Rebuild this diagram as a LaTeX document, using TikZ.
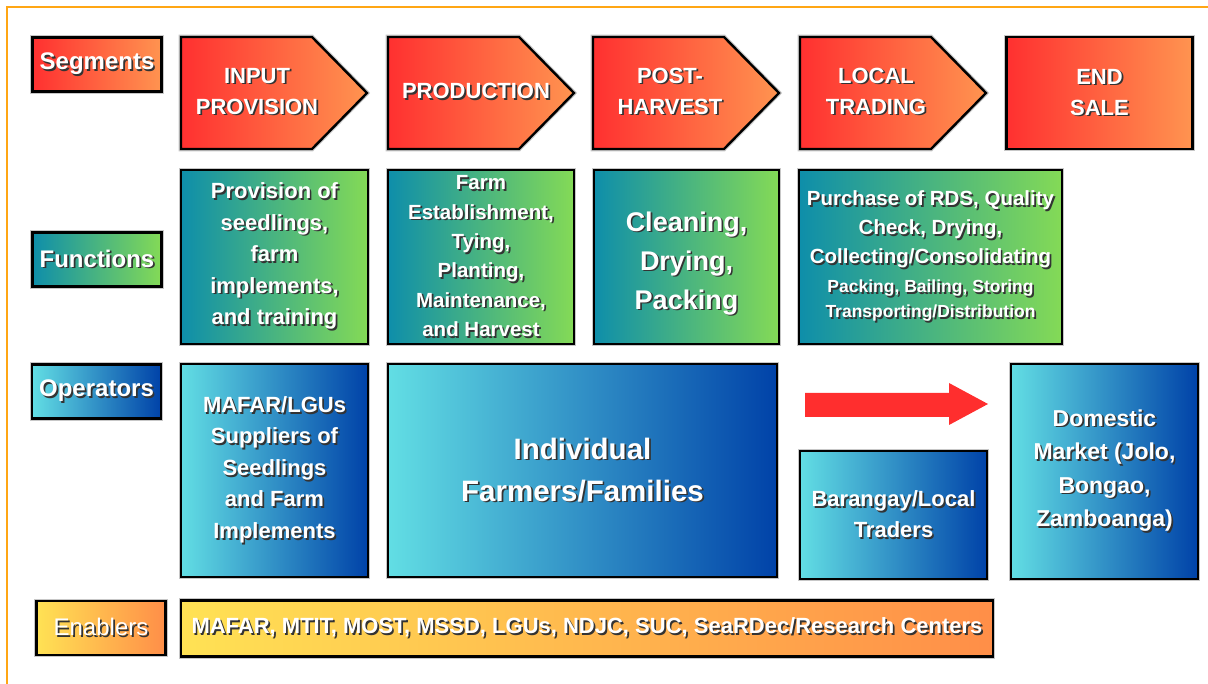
\documentclass[tikz,border=0pt]{standalone}
\usepackage{fontspec}
\setmainfont{Liberation Sans}
\usetikzlibrary{shadows}

% colour scheme of the four rows
\definecolor{segL}{RGB}{255,48,48}
\definecolor{segR}{RGB}{255,148,80}
\definecolor{funL}{RGB}{14,142,170}
\definecolor{funR}{RGB}{132,218,86}
\definecolor{oprL}{RGB}{98,222,228}
\definecolor{oprR}{RGB}{0,66,168}
\definecolor{enbL}{RGB}{255,226,84}
\definecolor{enbR}{RGB}{255,142,72}
\definecolor{frameor}{RGB}{255,166,20}
\definecolor{flowred}{RGB}{255,46,46}

% white lettering with a dark drop shadow
\newcommand\shd[1]{\leavevmode\rlap{\kern1.7pt\raisebox{-1.7pt}{\textcolor{black!80}{#1}}}#1}

\tikzset{
  box/.style={draw=black, line width=2.4pt,
    preaction={draw=black!22, line width=4.6pt},
    text=white, align=center, inner sep=0pt},
  seg/.style={left color=segL, right color=segR},
  fun/.style={left color=funL, right color=funR},
  opr/.style={left color=oprL, right color=oprR},
  enb/.style={left color=enbL, right color=enbR},
  lbl/.style={box, minimum width=129pt, minimum height=54pt,
    font=\fontsize{24}{28}\selectfont\bfseries},
  segtxt/.style={text=white, align=center, inner sep=0pt,
    font=\fontsize{22}{31}\selectfont\bfseries},
}

\begin{document}
\begin{tikzpicture}[x=1pt,y=-1pt]
\useasboundingbox (0,0) rectangle (1208,684);
\clip (0,0) rectangle (1208,684);

% outer frame
\draw[frameor, line width=2.6pt] (7,700) -- (7,7) -- (1220,7);

% row labels
\node[lbl, seg] (lseg) at (97,64.5) {\shd{Segments}};
\node[lbl, fun] (lfun) at (97,259.5) {\shd{Functions}};
\node[lbl, opr] (lopr) at (96.5,391.5) {\shd{Operators}};
\node[lbl, enb, font=\fontsize{24}{28}\selectfont] (lenb) at (101,628) {\shd{Enablers}};

% segments: chevrons
\path[box, seg] (181,37) -- (312,37) -- (367,93) -- (312,149) -- (181,149) -- cycle;
\path[box, seg] (388,37) -- (519,37) -- (574,93) -- (519,149) -- (388,149) -- cycle;
\path[box, seg] (593,37) -- (724,37) -- (779,93) -- (724,149) -- (593,149) -- cycle;
\path[box, seg] (800,37) -- (931,37) -- (986,93) -- (931,149) -- (800,149) -- cycle;
\node[segtxt] (s1) at (257,92) {\shd{INPUT}\\\shd{PROVISION}};
\node[segtxt] (s2) at (476,92) {\shd{PRODUCTION}};
\node[segtxt] (s3) at (670,92) {\shd{POST-}\\\shd{HARVEST}};
\node[segtxt] (s4) at (876,92) {\shd{LOCAL}\\\shd{TRADING}};
\node[box, seg, minimum width=186pt, minimum height=112pt,
      font=\fontsize{22}{31}\selectfont\bfseries] (s5) at (1099.5,93) {\shd{END}\\\shd{SALE}};

% functions
\node[box, fun, minimum width=187pt, minimum height=174pt,
      font=\fontsize{22}{31.5}\selectfont\bfseries] (f1) at (274.5,257)
  {\shd{Provision of}\\\shd{seedlings,}\\\shd{farm}\\\shd{implements,}\\\shd{and training}};
\node[box, fun, minimum width=186pt, minimum height=174pt,
      font=\fontsize{20.5}{29.4}\selectfont\bfseries] (f2) at (481,257)
  {\shd{Farm}\\\shd{Establishment,}\\\shd{Tying,}\\\shd{Planting,}\\\shd{Maintenance,}\\\shd{and Harvest}};
\node[box, fun, minimum width=185pt, minimum height=174pt,
      font=\fontsize{27}{39}\selectfont\bfseries] (f3) at (686.5,257)
  {\rule{0pt}{34pt}\shd{Cleaning,}\\\shd{Drying,}\\\shd{Packing}};
\node[box, fun, minimum width=263pt, minimum height=174pt,
      font=\fontsize{20.5}{29}\selectfont\bfseries] (f4) at (930.5,257)
  {\shd{Purchase of RDS, Quality}\\\shd{Check, Drying,}\\\shd{Collecting/Consolidating}\\
   {\fontsize{17.5}{25}\selectfont\shd{Packing, Bailing, Storing}}\\[-4pt]
   {\fontsize{17.5}{25}\selectfont\shd{Transporting/Distribution}}};

% operators
\node[box, opr, minimum width=187pt, minimum height=213pt,
      font=\fontsize{22}{31.5}\selectfont\bfseries] (o1) at (274.5,470.5)
  {\shd{MAFAR/LGUs}\\\shd{Suppliers of}\\\shd{Seedlings}\\\shd{and Farm}\\\shd{Implements}};
\node[box, opr, minimum width=389pt, minimum height=213pt,
      font=\fontsize{29.5}{42}\selectfont\bfseries] (o2) at (582.5,470.5)
  {\shd{Individual}\\\shd{Farmers/Families}};
\node[box, opr, minimum width=187pt, minimum height=128pt,
      font=\fontsize{22}{31}\selectfont\bfseries] (o3) at (893.5,515)
  {\shd{Barangay/Local}\\\shd{Traders}};
\node[box, opr, minimum width=187pt, minimum height=215pt,
      font=\fontsize{23}{33.5}\selectfont\bfseries] (o4) at (1104.5,471.5)
  {\shd{Domestic}\\\shd{Market (Jolo,}\\\shd{Bongao,}\\\shd{Zamboanga)}};

% flow arrow towards the market
\fill[flowred] (805,393) -- (949,393) -- (949,383) -- (988,404) -- (949,425)
  -- (949,417) -- (805,417) -- cycle;

% enablers
\node[box, enb, minimum width=812pt, minimum height=56pt,
      font=\fontsize{22}{26}\selectfont\bfseries] (e1) at (587,628.5)
  {\shd{MAFAR, MTIT, MOST, MSSD, LGUs, NDJC, SUC, SeaRDec/Research Centers}};
\end{tikzpicture}
\end{document}
